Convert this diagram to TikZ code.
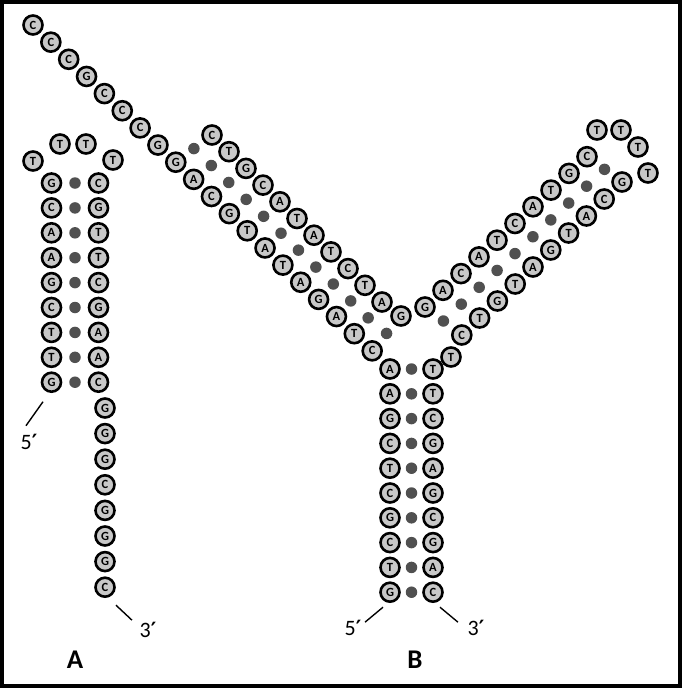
\documentclass[tikz,border=0pt]{standalone}
\usepackage{fontspec}
\setmainfont{Carlito}
\newfontfamily\primefont{DejaVu Sans}
\newcommand{\pr}{{\primefont\bfseries\fontsize{21}{21}\selectfont ′}}
\usetikzlibrary{calc}
\definecolor{basegray}{HTML}{C8C8C8}
\definecolor{dotgray}{HTML}{505050}
\tikzset{
    base/.style={circle, draw=black, line width=2.6pt, fill=basegray, inner sep=0pt,
        minimum size=19pt, font=\bfseries\fontsize{12.5}{12.5}\selectfont},
    hbond/.style={circle, fill=dotgray, inner sep=0pt, minimum size=11.5pt},
    lead/.style={line width=1.4pt},
    tag/.style={font=\fontsize{22}{22}\selectfont},
    panel/.style={font=\bfseries\fontsize{27}{27}\selectfont}
}
\begin{document}
\begin{tikzpicture}[x=1pt, y=-1pt]
            \useasboundingbox (0, 0) rectangle (685, 691);
            \draw[line width=4pt] (2, 1.5) rectangle (680, 686);
            % hairpin A
            \foreach \b [count=\k from 0] in {G,C,A,A,G,C,T,T,G}
                \node[base] (h\k) at (51.5, {183+24.9*\k}) {\b};
            \foreach \b [count=\k from 0] in {C,G,T,T,C,G,A,A,C}
                \node[base] (g\k) at (98.5, {183+24.9*\k}) {\b};
            \foreach \k in {0, 1, ..., 8}
                \node[hbond] (ha\k) at ($(h\k)!0.5!(g\k)$) {};
            \node[base] (la0) at (33, 161) {T};
            \node[base] (la1) at (60, 144) {T};
            \node[base] (la2) at (86, 144) {T};
            \node[base] (la3) at (113, 160) {T};
            \foreach \b [count=\k from 0] in {G,G,G,C,G,G,G,C}
                \node[base] (f\k) at (105, {408+25.6*\k}) {\b};
            \draw[lead] ($(h8)+(-8.5,19.5)$) -- ($(h8)+(-25.5,43.5)$);
            \node[tag] (a5) at (29, 442) {5\pr};
            \draw[lead] ($(f7)+(11,18)$) -- ($(f7)+(27,33)$);
            \node[tag] (a3) at (148, 630) {3\pr};
            \node[panel] (pa) at (75, 660) {A};
            % Y structure B
            \foreach \b [count=\k from 0] in {C,C,C,G,C,C,C,G,G,A,C,G,T,A,T,A,G,A,T,C}
                \node[base] (s\k) at ({33+17.85*\k}, {25+17.15*\k}) {\b};
            \foreach \b [count=\k from 0] in {C,T,G,C,A,T,A,T,C,T,A}
                \node[base] (u\k) at ({212+17*\k}, {135+16.7*\k}) {\b};
            \node[base] (u11) at (401, 316) {G};
            \foreach \k [evaluate=\k as \m using int(\k+8)] in {0, 1, ..., 11}
                \node[hbond] (pl\k) at ($(u\k)!0.5!(s\m)$) {};
            \foreach \b [count=\k from 0] in {G,A,C,A,T,C,A,T,G,C}
                \node[base] (r\k) at ({425+18*\k}, {307-16.7*\k}) {\b};
            \node[base] (lb0) at (597, 130) {T};
            \node[base] (lb1) at (621, 130) {T};
            \node[base] (lb2) at (638, 147) {T};
            \node[base] (lb3) at (648, 173) {T};
            \foreach \b [count=\k from 0] in {G,C,A,T,G,A,T,G,T,C}
                \node[base] (q\k) at ({622-17.8*\k}, {182+17*\k}) {\b};
            \foreach \k [evaluate=\k as \m using int(9-\k)] in {0, 1, ..., 9}
                \node[hbond] (pr\k) at ($(r\k)!0.5!(q\m)$) {};
            \node[base] (jt) at (451, 357) {T};
            \foreach \b [count=\k from 0] in {A,A,G,C,T,C,G,C,T,G}
                \node[base] (b\k) at (390, {369+24.8*\k}) {\b};
            \foreach \b [count=\k from 0] in {T,T,C,G,A,G,C,G,A,C}
                \node[base] (c\k) at (433, {369+24.8*\k}) {\b};
            \foreach \k in {0, 1, ..., 9}
                \node[hbond] (ps\k) at ($(b\k)!0.5!(c\k)$) {};
            \draw[lead] ($(b9)+(-7,15)$) -- ($(b9)+(-25,30)$);
            \node[tag] (b5) at (353, 628) {5\pr};
            \draw[lead] ($(c9)+(7,15)$) -- ($(c9)+(25,30)$);
            \node[tag] (b3) at (476, 628) {3\pr};
            \node[panel] (pb) at (415, 660) {B};
        \end{tikzpicture}
\end{document}
